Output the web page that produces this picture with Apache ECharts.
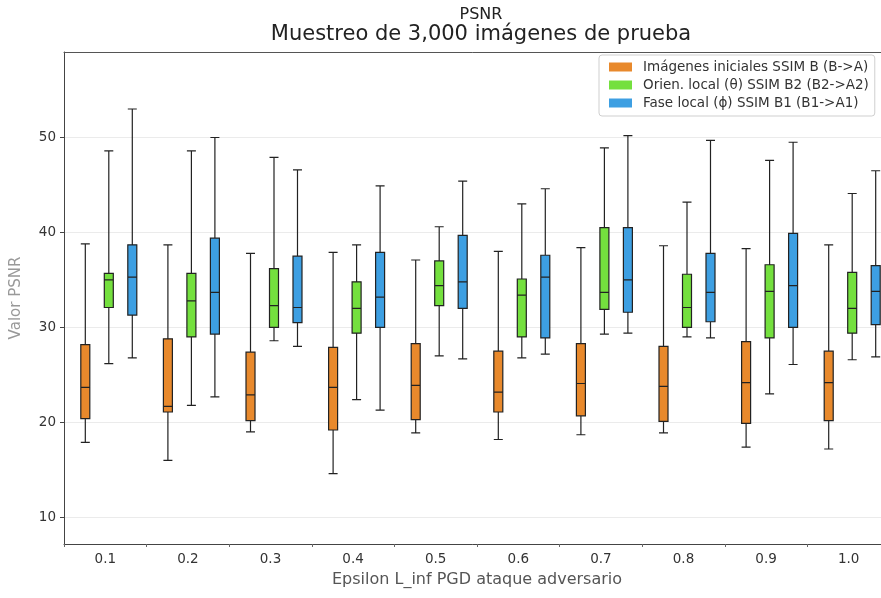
<!DOCTYPE html>
<html>
<head>
<meta charset="utf-8">
<script src="https://cdn.jsdelivr.net/npm/echarts@6/dist/echarts.min.js"></script>
<style>
  html, body { margin: 0; padding: 0; background: #fff; }
  #chart { width: 881px; height: 598px; }
</style>
</head>
<body>
<div id="chart"></div>
<script>
// [min, Q1, median, Q3, max] per epsilon
var categories = ['0.1', '0.2', '0.3', '0.4', '0.5', '0.6', '0.7', '0.8', '0.9', '1.0'];
var yTicks = [10, 20, 30, 40, 50];

var seriesNames = [
    'Imágenes iniciales SSIM B (B->A)',
    'Orien. local (θ) SSIM B2 (B2->A2)',
    'Fase local (ϕ) SSIM B1 (B1->A1)'
];

var inicialesData = [
    [17.9, 20.4, 23.7, 28.2, 38.8],
    [16.0, 21.1, 21.7, 28.8, 38.7],
    [19.0, 20.2, 22.9, 27.4, 37.8],
    [14.6, 19.2, 23.7, 27.9, 37.9],
    [18.9, 20.3, 23.9, 28.3, 37.1],
    [18.2, 21.1, 23.2, 27.5, 38.0],
    [18.7, 20.7, 24.1, 28.3, 38.4],
    [18.9, 20.1, 23.8, 28.0, 38.6],
    [17.4, 19.9, 24.2, 28.5, 38.3],
    [17.2, 20.2, 24.2, 27.5, 38.7]
];

var orienData = [
    [26.2, 32.1, 35.0, 35.7, 48.6],
    [21.8, 29.0, 32.8, 35.7, 48.6],
    [28.6, 30.0, 32.3, 36.2, 47.9],
    [22.4, 29.4, 32.0, 34.8, 38.7],
    [27.0, 32.3, 34.4, 37.0, 40.6],
    [26.8, 29.0, 33.4, 35.1, 43.0],
    [29.3, 31.9, 33.7, 40.5, 48.9],
    [29.0, 30.0, 32.1, 35.6, 43.2],
    [23.0, 28.9, 33.8, 36.6, 47.6],
    [26.6, 29.4, 32.0, 35.8, 44.1]
];

var faseData = [
    [26.8, 31.3, 35.3, 38.7, 53.0],
    [22.7, 29.3, 33.7, 39.4, 50.0],
    [28.0, 30.5, 32.1, 37.5, 46.6],
    [21.3, 30.0, 33.2, 37.9, 44.9],
    [26.7, 32.0, 34.8, 39.7, 45.4],
    [27.2, 28.9, 35.3, 37.6, 44.6],
    [29.4, 31.6, 35.0, 40.5, 50.2],
    [28.9, 30.6, 33.7, 37.8, 49.7],
    [26.1, 30.0, 34.4, 39.9, 49.5],
    [26.9, 30.3, 33.8, 36.5, 46.5]
];

var colors = ['#e8892c', '#74e03e', '#3d9fe2'];
var yMin = 7.2, yMax = 59;

var chart = echarts.init(document.getElementById('chart'));

function boxSeries(idx, data) {
    return {
        name: seriesNames[idx],
        type: 'boxplot',
        xAxisIndex: 3,
        yAxisIndex: 2,
        boxWidth: [9, 9],
        data: data,
        itemStyle: {
            color: colors[idx],
            borderColor: '#222',
            borderWidth: 1.2
        },
        emphasis: { disabled: true },
        silent: true
    };
}

var legendData = seriesNames.map(function (name, i) {
    return { name: name, itemStyle: { color: colors[i], borderWidth: 0 } };
});

var option = {
    animation: false,
    title: [
        {
            text: 'PSNR',
            left: 476,
            top: 2,
            textAlign: 'center',
            textStyle: { fontFamily: 'DejaVu Sans', fontSize: 16, fontWeight: 'normal', color: '#222' }
        },
        {
            text: 'Muestreo de 3,000 imágenes de prueba',
            left: 476,
            top: 19,
            textAlign: 'center',
            textStyle: { fontFamily: 'DejaVu Sans', fontSize: 21, fontWeight: 'normal', color: '#222' }
        }
    ],
    legend: {
        orient: 'vertical',
        left: 599,
        top: 55,
        padding: [5, 6, 6, 10],
        itemGap: 4,
        itemWidth: 23,
        itemHeight: 9,
        icon: 'rect',
        borderColor: '#cfcfcf',
        borderWidth: 1,
        borderRadius: 3,
        backgroundColor: '#fff',
        data: legendData,
        textStyle: { fontFamily: 'DejaVu Sans', fontSize: 13.5, color: '#333', padding: [0, 0, 0, 6] }
    },
    grid: [
        // visible axes
        { left: 64, top: 52, width: 826, bottom: 54, outerBoundsMode: 'none' },
        // minor ticks between epsilon groups
        { left: 64, top: 52, width: 826, bottom: 54, outerBoundsMode: 'none' },
        // boxes, nudged so the middle box sits on the tick
        { left: 67.5, top: 52, width: 826, bottom: 54, outerBoundsMode: 'none' }
    ],
    xAxis: [
        {
            type: 'category',
            gridIndex: 0,
            position: 'bottom',
            data: categories,
            name: 'Epsilon L_inf PGD ataque adversario',
            nameLocation: 'middle',
            nameGap: 28,
            nameTextStyle: { fontFamily: 'DejaVu Sans', fontSize: 16, color: '#555' },
            axisLine: { lineStyle: { color: '#444', width: 1 } },
            axisTick: { alignWithLabel: true, length: 5, lineStyle: { color: '#444' } },
            axisLabel: { fontFamily: 'DejaVu Sans', fontSize: 13.5, color: '#333', margin: 8 },
            splitLine: { show: false }
        },
        {
            type: 'category',
            gridIndex: 0,
            position: 'top',
            data: categories,
            axisLine: { show: true, lineStyle: { color: '#555', width: 1 } },
            axisTick: { show: false },
            axisLabel: { show: false },
            splitLine: { show: false }
        },
        {
            type: 'category',
            gridIndex: 1,
            position: 'bottom',
            data: categories,
            axisLine: { show: false },
            axisTick: { show: true, length: 3, lineStyle: { color: '#666' } },
            axisLabel: { show: false },
            splitLine: { show: false }
        },
        {
            type: 'category',
            gridIndex: 2,
            data: categories,
            show: false
        }
    ],
    yAxis: [
        {
            type: 'value',
            gridIndex: 0,
            min: yMin,
            max: yMax,
            name: 'Valor PSNR',
            nameLocation: 'middle',
            nameGap: 40,
            nameTextStyle: { fontFamily: 'DejaVu Sans', fontSize: 15, color: '#999' },
            axisLine: { show: true, lineStyle: { color: '#444', width: 1 } },
            axisTick: { show: true, length: 4, customValues: yTicks, lineStyle: { color: '#444' } },
            axisLabel: {
                fontFamily: 'DejaVu Sans', fontSize: 13.5, color: '#333', margin: 8,
                customValues: yTicks
            },
            splitLine: { show: true, lineStyle: { color: '#ebebeb', width: 1 } }
        },
        { type: 'value', gridIndex: 1, min: yMin, max: yMax, show: false },
        { type: 'value', gridIndex: 2, min: yMin, max: yMax, show: false }
    ],
    series: [
        boxSeries(0, inicialesData),
        boxSeries(1, orienData),
        boxSeries(2, faseData)
    ]
};

chart.setOption(option);
</script>
</body>
</html>
